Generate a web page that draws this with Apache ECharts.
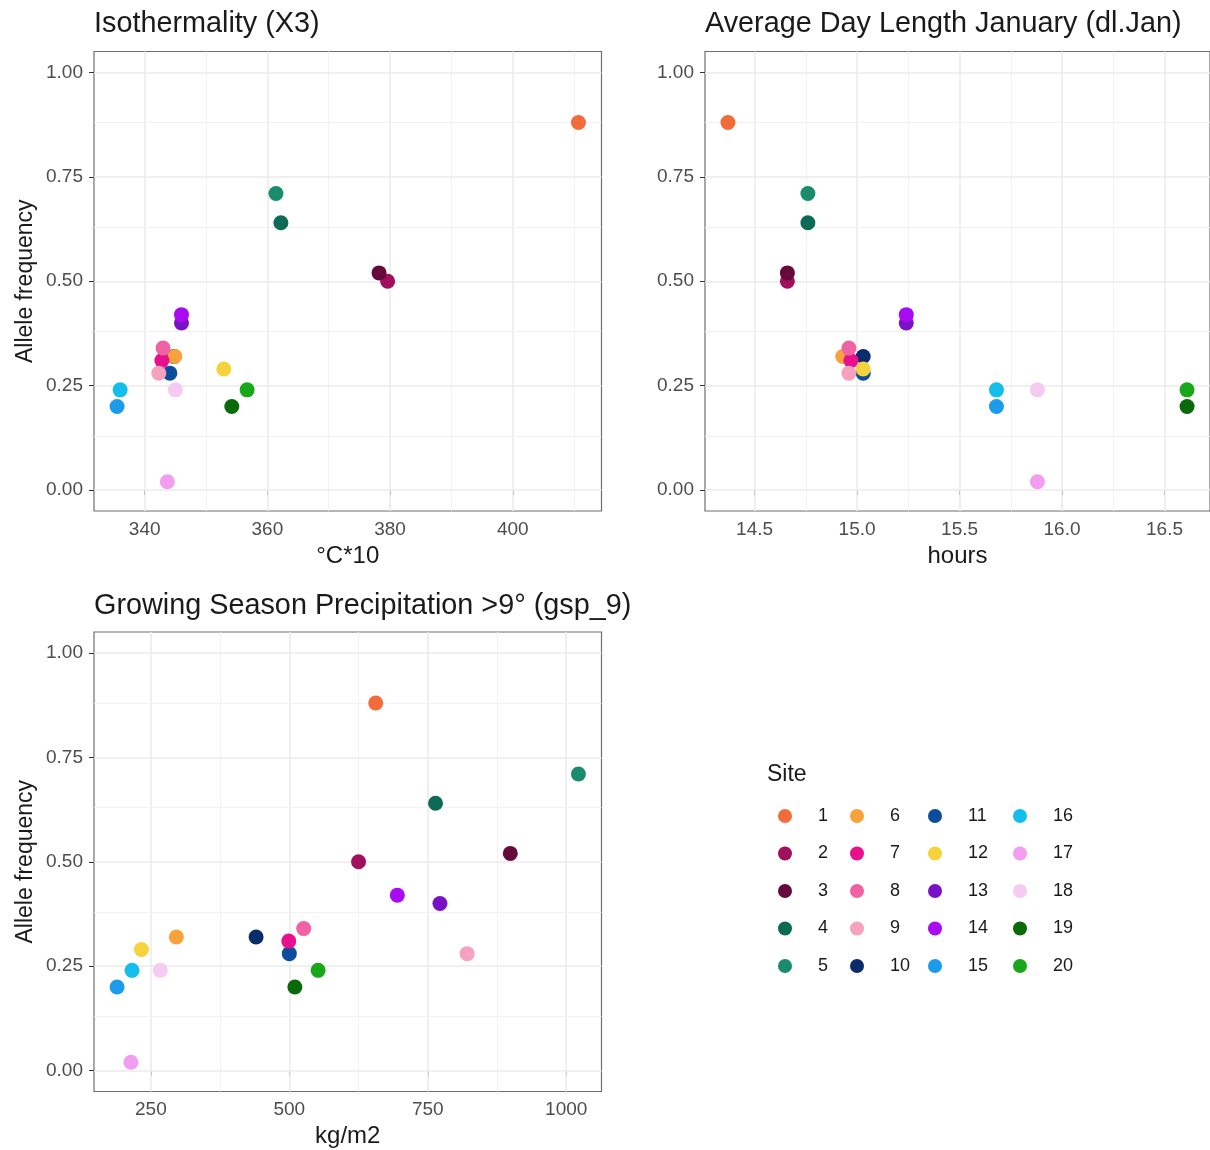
<!DOCTYPE html>
<html><head><meta charset="utf-8">
<script src="https://cdn.jsdelivr.net/npm/echarts@6/dist/echarts.min.js"></script>
<style>html,body{margin:0;padding:0;background:#fff}#c{width:1210px;height:1150px}</style>
</head><body><div id="c"></div>
<script>
// ---------- data ----------
const sites = ['1','2','3','4','5','6','7','8','9','10','11','12','13','14','15','16','17','18','19','20'];
const siteColors = ['#F26C3A','#A0105C','#660A3C','#0D6B55','#198C6E','#F8A23C','#E8108C','#EF62A4','#F5A1BF','#0A2C6B',
                    '#0B4C9C','#F6D23C','#7912C4','#A80AF2','#1D9BEB','#13BEEC','#F29DEF','#F6CBF1','#0A6A0A','#18A81A'];
const alleleFreq   = [0.88,0.50,0.52,0.64,0.71,0.32,0.31,0.34,0.28,0.32,0.28,0.29,0.40,0.42,0.20,0.24,0.02,0.24,0.20,0.24];
const isothermality = [410.7,379.6,378.2,362.2,361.4,344.9,342.8,343.0,342.3,344.8,344.1,352.9,346.0,346.0,335.5,336.0,343.7,345.0,354.2,356.7];
const dayLengthJan = [14.37,14.66,14.66,14.76,14.76,14.93,14.97,14.96,14.96,15.03,15.03,15.03,15.24,15.24,15.68,15.68,15.88,15.88,16.61,16.61];
const gspPrecip    = [656,625,899,764,1022,296,499,526,821,440,500,233,772,695,189,216,214,267,510,552];

const yTicks = [0,0.25,0.5,0.75,1];
const yMinor = [0.125,0.375,0.625,0.875];
const isoTicks = [340,360,380,400];
const isoMinor = [350,370,390,410];
const dayTicks = [14.5,15,15.5,16,16.5];
const dayMinor = [14.75,15.25,15.75,16.25];
const gspTicks = [250,500,750,1000];
const gspMinor = [375,625,875];

const titles = ['Isothermality (X3)','Average Day Length January (dl.Jan)','Growing Season Precipitation >9° (gsp_9)'];
const xNames = ['°C*10','hours','kg/m2'];
const yName = 'Allele frequency';

// ---------- chart ----------
const FONT = 'Liberation Sans, Arial, sans-serif';
const panels = [
  {x: isothermality, ticks: isoTicks, minor: isoMinor, dec: 0, grid:{left:94, top:51.5}, yTitle:true},
  {x: dayLengthJan,  ticks: dayTicks, minor: dayMinor, dec: 1, grid:{left:705, top:51.5}, yTitle:false},
  {x: gspPrecip,     ticks: gspTicks, minor: gspMinor, dec: 0, grid:{left:94, top:632}, yTitle:true}
];
const W = 507.5, H = 459.5;
const expand = v => ({min: v.min - 0.05*(v.max - v.min), max: v.max + 0.05*(v.max - v.min)});

const grids = [], xAxes = [], yAxes = [], series = [];
panels.forEach((p, i) => {
  grids.push({left:p.grid.left, top:p.grid.top, width:W, height:H, show:true, borderColor:'#6e6e6e', borderWidth:1.2, backgroundColor:'transparent'});
  xAxes.push({
    type:'value', gridIndex:i,
    min: v => expand(v).min, max: v => expand(v).max,
    axisLine:{show:false},
    axisTick:{show:true, customValues:p.ticks, length:5, lineStyle:{color:'#333', width:1}},
    axisLabel:{customValues:p.ticks, formatter: v => v.toFixed(p.dec), color:'#4d4d4d', fontSize:19, fontFamily:FONT, margin:9},
    splitLine:{show:false},
    name: xNames[i], nameLocation:'middle', nameGap:33,
    nameTextStyle:{fontSize:24, color:'#1a1a1a', fontFamily:FONT}
  });
  yAxes.push({
    type:'value', gridIndex:i, min:-0.05, max:1.05,
    axisLine:{show:false},
    axisTick:{show:true, customValues:yTicks, length:5, lineStyle:{color:'#333', width:1}},
    axisLabel:{customValues:yTicks, formatter: v => v.toFixed(2), color:'#4d4d4d', fontSize:19, fontFamily:FONT, margin:11},
    splitLine:{show:false},
    name: p.yTitle ? yName : '', nameLocation:'middle', nameGap:57,
    nameTextStyle:{fontSize:23, color:'#1a1a1a', fontFamily:FONT}
  });
  const major = {color:'#EBEBEB', width:1.6, type:'solid'};
  const minor = {color:'#F2F2F2', width:1, type:'solid'};
  const lines = [];
  p.ticks.forEach(t => lines.push({xAxis:t, lineStyle:major}));
  p.minor.forEach(t => lines.push({xAxis:t, lineStyle:minor}));
  yTicks.forEach(t => lines.push({yAxis:t, lineStyle:major}));
  yMinor.forEach(t => lines.push({yAxis:t, lineStyle:minor}));
  series.push({
    type:'scatter', xAxisIndex:i, yAxisIndex:i, data:[], z:1, silent:true,
    markLine:{silent:true, z:1, zlevel:0, symbol:['none','none'], label:{show:false}, animation:false, emphasis:{disabled:true}, data:lines}
  });
});

// drawing order: sites as text-sorted (as in source data)
const drawOrder = sites.slice().sort();
drawOrder.forEach(s => {
  const k = sites.indexOf(s);
  panels.forEach((p, i) => {
    series.push({
      name:s, type:'scatter', xAxisIndex:i, yAxisIndex:i, z:10,
      symbolSize:15, itemStyle:{color:siteColors[k], opacity:1},
      emphasis:{disabled:true},
      data:[[p.x[k], alleleFreq[k]]]
    });
  });
});

const legendCols = [778, 850, 928, 1013];
const legends = legendCols.map((lx, c) => ({
  orient:'vertical', left:lx, top:807, itemWidth:14, itemHeight:14, itemGap:19.5,
  icon:'circle', selectedMode:false, padding:0,
  data: sites.slice(c*5, c*5+5),
  textStyle:{fontSize:18, color:'#1a1a1a', fontFamily:FONT, padding:[0,0,0,21]}
}));

const chart = echarts.init(document.getElementById('c'), null, {renderer:'canvas'});
const tStyle = {fontSize:28.8, fontWeight:'normal', color:'#1a1a1a', fontFamily:FONT};
chart.setOption({
  backgroundColor:'#ffffff',
  animation:false,
  textStyle:{fontFamily:FONT},
  title:[
    {text:titles[0], left:94, top:10, padding:0, textStyle:tStyle},
    {text:titles[1], left:705, top:10, padding:0, textStyle:tStyle},
    {text:titles[2], left:94, top:592, padding:0, textStyle:tStyle},
    {text:'Site', left:767, top:763, padding:0, textStyle:{fontSize:23, fontWeight:'normal', color:'#1a1a1a', fontFamily:FONT}}
  ],
  grid:grids, xAxis:xAxes, yAxis:yAxes, legend:legends, series:series
});
</script></body></html>
